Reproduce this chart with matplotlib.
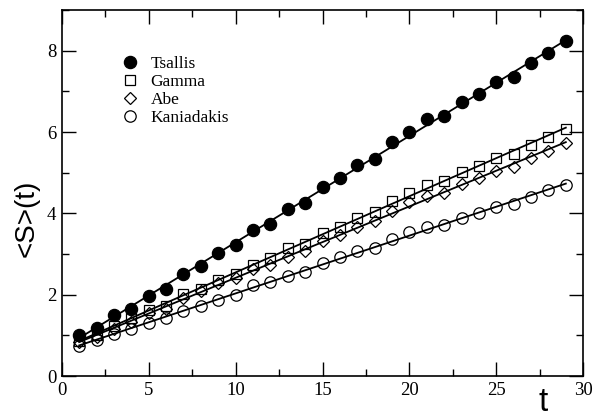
import numpy as np
import matplotlib
matplotlib.use("Agg")
import matplotlib.pyplot as plt
from matplotlib.ticker import MultipleLocator

t = list(range(1, 30))
tsallis = [1.01, 1.19, 1.51, 1.66, 1.98, 2.15, 2.51, 2.70, 3.03, 3.21, 3.59, 3.75, 4.10, 4.25,
           4.65, 4.86, 5.19, 5.33, 5.76, 6.01, 6.31, 6.39, 6.73, 6.93, 7.24, 7.36, 7.70, 7.95, 8.24]
gamma = [0.86, 1.02, 1.24, 1.42, 1.63, 1.73, 2.02, 2.14, 2.37, 2.52, 2.74, 2.91, 3.14, 3.25,
         3.52, 3.67, 3.89, 4.03, 4.30, 4.51, 4.70, 4.79, 5.02, 5.17, 5.36, 5.47, 5.69, 5.88, 6.07]
abe = [0.83, 0.97, 1.16, 1.33, 1.55, 1.65, 1.92, 2.08, 2.29, 2.41, 2.64, 2.72, 2.93, 3.07,
       3.33, 3.48, 3.67, 3.81, 4.06, 4.28, 4.43, 4.49, 4.72, 4.87, 5.05, 5.14, 5.35, 5.54, 5.73]
kaniadakis = [0.75, 0.89, 1.04, 1.16, 1.30, 1.42, 1.60, 1.73, 1.88, 2.00, 2.25, 2.30, 2.47, 2.55,
              2.77, 2.92, 3.07, 3.15, 3.37, 3.54, 3.67, 3.72, 3.89, 4.02, 4.16, 4.24, 4.40, 4.57, 4.69]
labels = ["Tsallis", "Gamma", "Abe", "Kaniadakis"]

serif = ["Liberation Serif", "DejaVu Serif"]
sans = ["Liberation Sans", "DejaVu Sans"]

fig = plt.figure(figsize=(6.0, 4.19), dpi=100)
ax = fig.add_axes([0.103, 0.1026, 0.869, 0.8734])

tt = np.array(t, dtype=float)
styles = [
    dict(marker="o", ms=8.8, mfc="black", mec="black"),
    dict(marker="s", ms=7.2, mfc="none", mec="black"),
    dict(marker="D", ms=6.2, mfc="none", mec="black"),
    dict(marker="o", ms=8.2, mfc="none", mec="black"),
]
for ys, lab, st in zip([tsallis, gamma, abe, kaniadakis], labels, styles):
    ys = np.array(ys)
    c = np.polyfit(tt, ys, 1)
    ax.plot([tt[0], tt[-1]], np.polyval(c, [tt[0], tt[-1]]), color="black", lw=1.3, zorder=2)
    ax.plot(tt, ys, linestyle="none", mew=0.9, label=lab, zorder=3, **st)

ax.set_xlim(0, 30)
ax.set_ylim(0, 9)
ax.xaxis.set_major_locator(MultipleLocator(5))
ax.xaxis.set_minor_locator(MultipleLocator(2.5))
ax.yaxis.set_major_locator(MultipleLocator(2))
ax.yaxis.set_minor_locator(MultipleLocator(1))
ax.tick_params(which="both", direction="in", top=True, right=True, width=1.0)
ax.tick_params(which="major", length=10)
ax.tick_params(which="minor", length=5)
ax.tick_params(axis="both", labelsize=13.5, pad=4)
for lbl in ax.get_xticklabels() + ax.get_yticklabels():
    lbl.set_family(serif)
for s in ax.spines.values():
    s.set_linewidth(1.2)

leg = ax.legend(loc="upper left", bbox_to_anchor=(0.105, 0.893), frameon=False,
                prop={"family": serif, "size": 12.5}, handlelength=0.8,
                handletextpad=0.75, labelspacing=0.1, borderaxespad=0)

fig.text(0.045, 0.48, "<S>(t)", rotation=90, fontsize=20, family=sans,
         ha="center", va="center")
fig.text(0.905, 0.04, "t", fontsize=24, family=sans, ha="center", va="center")

fig.savefig("out.png", dpi=100)
